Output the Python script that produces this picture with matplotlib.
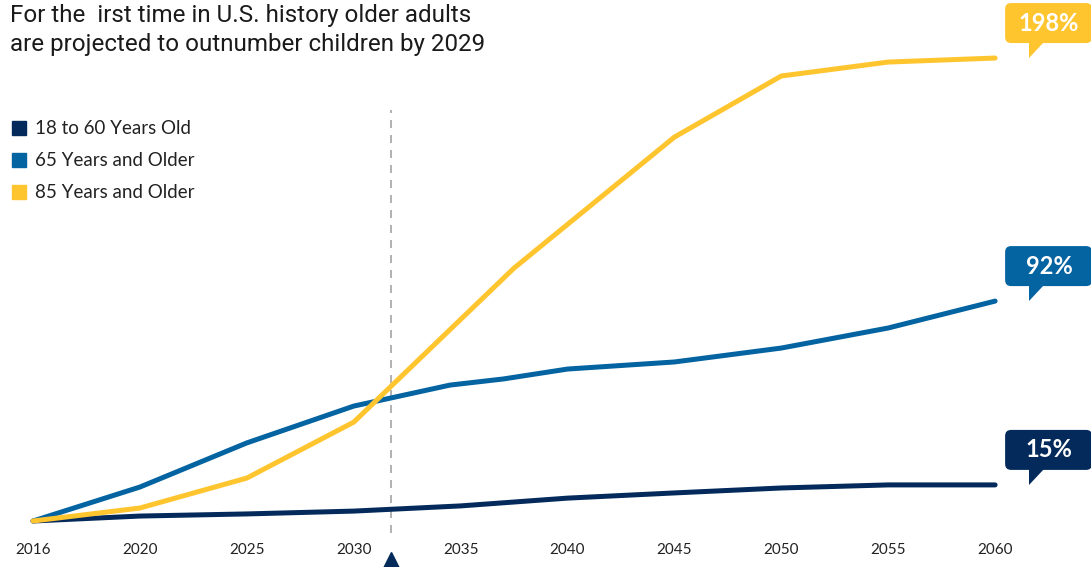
import numpy as np
import matplotlib
matplotlib.use('Agg')
import matplotlib.pyplot as plt
from matplotlib.lines import Line2D
from matplotlib.patches import FancyBboxPatch, Polygon
from matplotlib.transforms import IdentityTransform

# data (percent growth since 2016)
tick_years = [2016, 2020, 2025, 2030, 2035, 2040, 2045, 2050, 2055, 2060]

adult_years = [2016, 2020, 2025, 2030, 2035, 2040, 2045, 2050, 2055, 2060]
adult_vals = [0, 2.1, 3.0, 4.2, 6.4, 9.7, 11.9, 14.0, 15.3, 15.3]

older65_years = [2016, 2020, 2025, 2030, 2034.5, 2037, 2040, 2045, 2050, 2055, 2060]
older65_vals = [0, 14.4, 33.1, 48.7, 57.6, 60.2, 64.4, 67.4, 73.3, 81.8, 93.2]

older85_years = [2016, 2020, 2025, 2030, 2037.5, 2045, 2050, 2055, 2060]
older85_vals = [0, 5.5, 18.2, 41.9, 107.2, 162.7, 188.6, 194.5, 196.2]

labels = ['18 to 60 Years Old', '65 Years and Older', '85 Years and Older']
callouts = ['15%', '92%', '198%']
colors = ['#032a5a', '#0463a1', '#ffc52f']
marker_year = 2031.75

W, H = 1091, 567
fig = plt.figure(figsize=(W / 100, H / 100), dpi=100)
ax = fig.add_axes([0, 32 / H, 1, 535 / H])

# evenly spaced ticks, data placed between them piecewise
def pos(years):
    return np.interp(years, tick_years, np.arange(len(tick_years)))

series = [(adult_years, adult_vals), (older65_years, older65_vals), (older85_years, older85_vals)]
for (yrs, vals), c in zip(series, colors):
    ax.plot(pos(yrs), vals, color=c, lw=3.6, solid_capstyle='round', zorder=3)

ax.set_xlim(-0.309, 9.897)
ax.set_ylim(-5.93, 220.8)
for s in ax.spines.values():
    s.set_visible(False)
ax.set_yticks([])
ax.set_xticks(np.arange(len(tick_years)))
ax.set_xticklabels([str(y) for y in tick_years], fontsize=11, color='#222222', fontfamily='Lato')
ax.tick_params(axis='x', length=0, pad=6)

# dashed marker for crossover
mx = pos(marker_year)
ax.vlines(mx, -5.1, 174, colors='#b3b3b6', lw=1.44, linestyles=(0, (4, 3.5)), zorder=1)
ax.plot([mx], [-17.4], marker='^', ms=14.4, color=colors[0], clip_on=False, zorder=4)

# legend
handles = [Line2D([], [], ls='none', marker='s', ms=9.5, color=c) for c in colors]
leg = ax.legend(handles, labels, loc='upper left', bbox_to_anchor=(2 / W, (H - 111) / H),
                bbox_transform=fig.transFigure, frameon=False,
                prop={'family': 'Lato', 'size': 13.5}, labelcolor='#222222',
                handlelength=0.8, handletextpad=0.45, labelspacing=0.8, borderpad=0)

# title
fig.text(10 / W, 1 - 4 / H, 'For the  irst time in U.S. history older adults\nare projected to outnumber children by 2029',
         ha='left', va='top', fontsize=17.4, color='#1a1a1a', fontfamily='Roboto',
         linespacing=1.35)

# end-of-line callouts
fig.canvas.draw()
for (yrs, vals), c, txt in zip(series, colors, callouts):
    ex, ey = ax.transData.transform((pos(yrs[-1]), vals[-1]))
    tx, ty = ex + 34, ey
    left, bottom = tx - 24, ty + 15
    box = FancyBboxPatch((left, bottom), 87, 40, boxstyle='round,pad=0,rounding_size=6',
                         transform=IdentityTransform(), fc=c, ec='none')
    fig.add_artist(box)
    tri = Polygon([(tx, ty), (tx, bottom + 1), (tx + 15, bottom + 1)], closed=True,
                  transform=IdentityTransform(), fc=c, ec='none')
    fig.add_artist(tri)
    fig.text(left + 44, bottom + 20, txt, transform=IdentityTransform(), ha='center', va='center',
             color='white', fontsize=17, fontweight='bold', fontfamily='Lato')

fig.savefig('out.png', dpi=100)
